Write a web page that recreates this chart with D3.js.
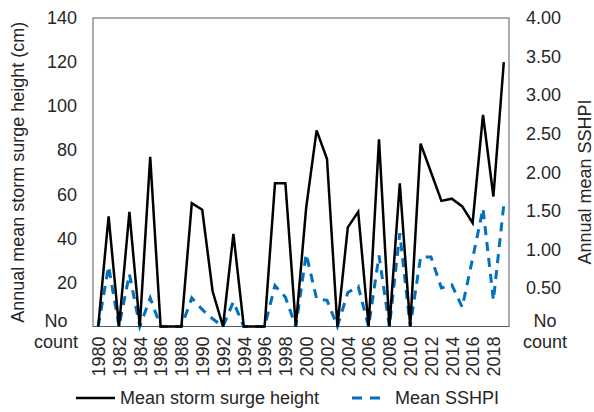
<!DOCTYPE html>
<html>
<head>
<meta charset="utf-8">
<script src="https://cdn.jsdelivr.net/npm/d3@7"></script>
<style>
  body { margin: 0; background: #fff; }
  text { font-family: "Liberation Sans", Arial, sans-serif; fill: #262626; }
</style>
</head>
<body>
<script>
let years = d3.range(1980, 2020)
let surge = [0, 50, 0, 52, 0, 77, 0, 0, 0, 56, 53, 16, 0, 42, 0, 0, 0, 65, 65, 0,
  54, 89, 76, 0, 45, 52, 0, 85, 0, 65, 0, 83, 70, 57, 58, 54.5, 47, 96, 59, 120]
let sshpi = [0, 0.78, 0, 0.68, 0, 0.37, 0, 0, 0, 0.37, 0.22, 0.1, 0, 0.32, 0, 0, 0, 0.53, 0.38, 0,
  0.94, 0.36, 0.34, 0, 0.44, 0.52, 0, 0.92, 0, 1.21, 0, 0.9, 0.9, 0.5, 0.54, 0.25, 0.88, 1.53, 0.34, 1.58]
let leftTicks = [0, 20, 40, 60, 80, 100, 120, 140]
let rightTicks = [0, 0.5, 1, 1.5, 2, 2.5, 3, 3.5, 4]
let yearTicks = years.filter(d => d % 2 === 0)

let width = 594
let height = 412
let plotL = 93, plotR = 509, plotT = 18, plotB = 326.5
let fontSize = 18
let textColor = '#262626'

let svg = d3.select('body').append('svg')
  .attr('width', width)
  .attr('height', height)

let scaleX = d3.scalePoint().domain(years).range([plotL, plotR]).padding(0.5)
let scaleL = d3.scaleLinear().domain([0, 140]).range([plotB, plotT])
let scaleR = d3.scaleLinear().domain([0, 4]).range([plotB, plotT])

// frame
svg.append('rect')
  .attr('x', plotL).attr('y', plotT)
  .attr('width', plotR - plotL).attr('height', plotB - plotT)
  .attr('fill', 'none').attr('stroke', '#595959').attr('stroke-width', 1)

function noCount(sel, x) {
  sel.each(function (d) {
    if (d !== 0) return
    let t = d3.select(this).text(null).attr('text-anchor', 'middle')
    t.append('tspan').attr('x', x).attr('dy', '0em').text('No')
    t.append('tspan').attr('x', x).attr('dy', '1.17em').text('count')
  })
}

function styleText(g) {
  g.selectAll('text').attr('font-size', fontSize).style('fill', textColor)
    .attr('font-family', '"Liberation Sans", Arial, sans-serif')
}

// left axis
let gl = svg.append('g')
  .attr('transform', 'translate(' + plotL + ',0)')
  .call(d3.axisLeft(scaleL).tickValues(leftTicks).tickSize(0).tickPadding(16).tickFormat(d3.format('d')))
gl.select('.domain').remove()
styleText(gl)
gl.selectAll('.tick text').call(noCount, -37)

// right axis
let gr = svg.append('g')
  .attr('transform', 'translate(' + plotR + ',0)')
  .call(d3.axisRight(scaleR).tickValues(rightTicks).tickSize(0).tickPadding(17).tickFormat(d3.format('.2f')))
gr.select('.domain').remove()
styleText(gr)
gr.selectAll('.tick text').call(noCount, 36)

// bottom axis
let gb = svg.append('g')
  .attr('transform', 'translate(0,' + plotB + ')')
  .call(d3.axisBottom(scaleX).tickValues(yearTicks).tickSize(0))
gb.select('.domain').remove()
styleText(gb)
gb.selectAll('text')
  .attr('transform', 'rotate(-90)')
  .attr('text-anchor', 'end')
  .attr('x', -10).attr('y', 0).attr('dy', '0.35em')

// axis titles
svg.append('text')
  .attr('transform', 'translate(18,' + (plotT + plotB) / 2 + ') rotate(-90)')
  .attr('text-anchor', 'middle').attr('dy', '0.35em')
  .attr('font-size', fontSize)
  .text('Annual mean storm surge height (cm)')

svg.append('text')
  .attr('transform', 'translate(585,182) rotate(-90)')
  .attr('text-anchor', 'middle').attr('dy', '0.35em')
  .attr('font-size', fontSize)
  .text('Annual mean SSHPI')

// lines
let surgeLine = d3.line().x((d, i) => scaleX(years[i])).y(d => scaleL(d))
let sshpiLine = d3.line().x((d, i) => scaleX(years[i])).y(d => scaleR(d))

svg.append('path')
  .datum(sshpi)
  .attr('d', sshpiLine)
  .attr('fill', 'none')
  .attr('stroke', '#0070C0')
  .attr('stroke-width', 3)
  .attr('stroke-dasharray', '9,7')

svg.append('path')
  .datum(surge)
  .attr('d', surgeLine)
  .attr('fill', 'none')
  .attr('stroke', '#000')
  .attr('stroke-width', 2.5)
  .attr('stroke-linejoin', 'miter')

// legend
let lg = svg.append('g').attr('transform', 'translate(0,398)')
lg.append('line').attr('x1', 76).attr('x2', 115).attr('y1', 0).attr('y2', 0)
  .attr('stroke', '#000').attr('stroke-width', 2.5)
lg.append('text').attr('x', 120).attr('dy', '0.35em').attr('font-size', fontSize)
  .text('Mean storm surge height')
lg.append('line').attr('x1', 352).attr('x2', 382).attr('y1', 0).attr('y2', 0)
  .attr('stroke', '#0070C0').attr('stroke-width', 3).attr('stroke-dasharray', '10,8')
lg.append('text').attr('x', 395).attr('dy', '0.35em').attr('font-size', fontSize)
  .text('Mean SSHPI')
</script>
</body>
</html>
